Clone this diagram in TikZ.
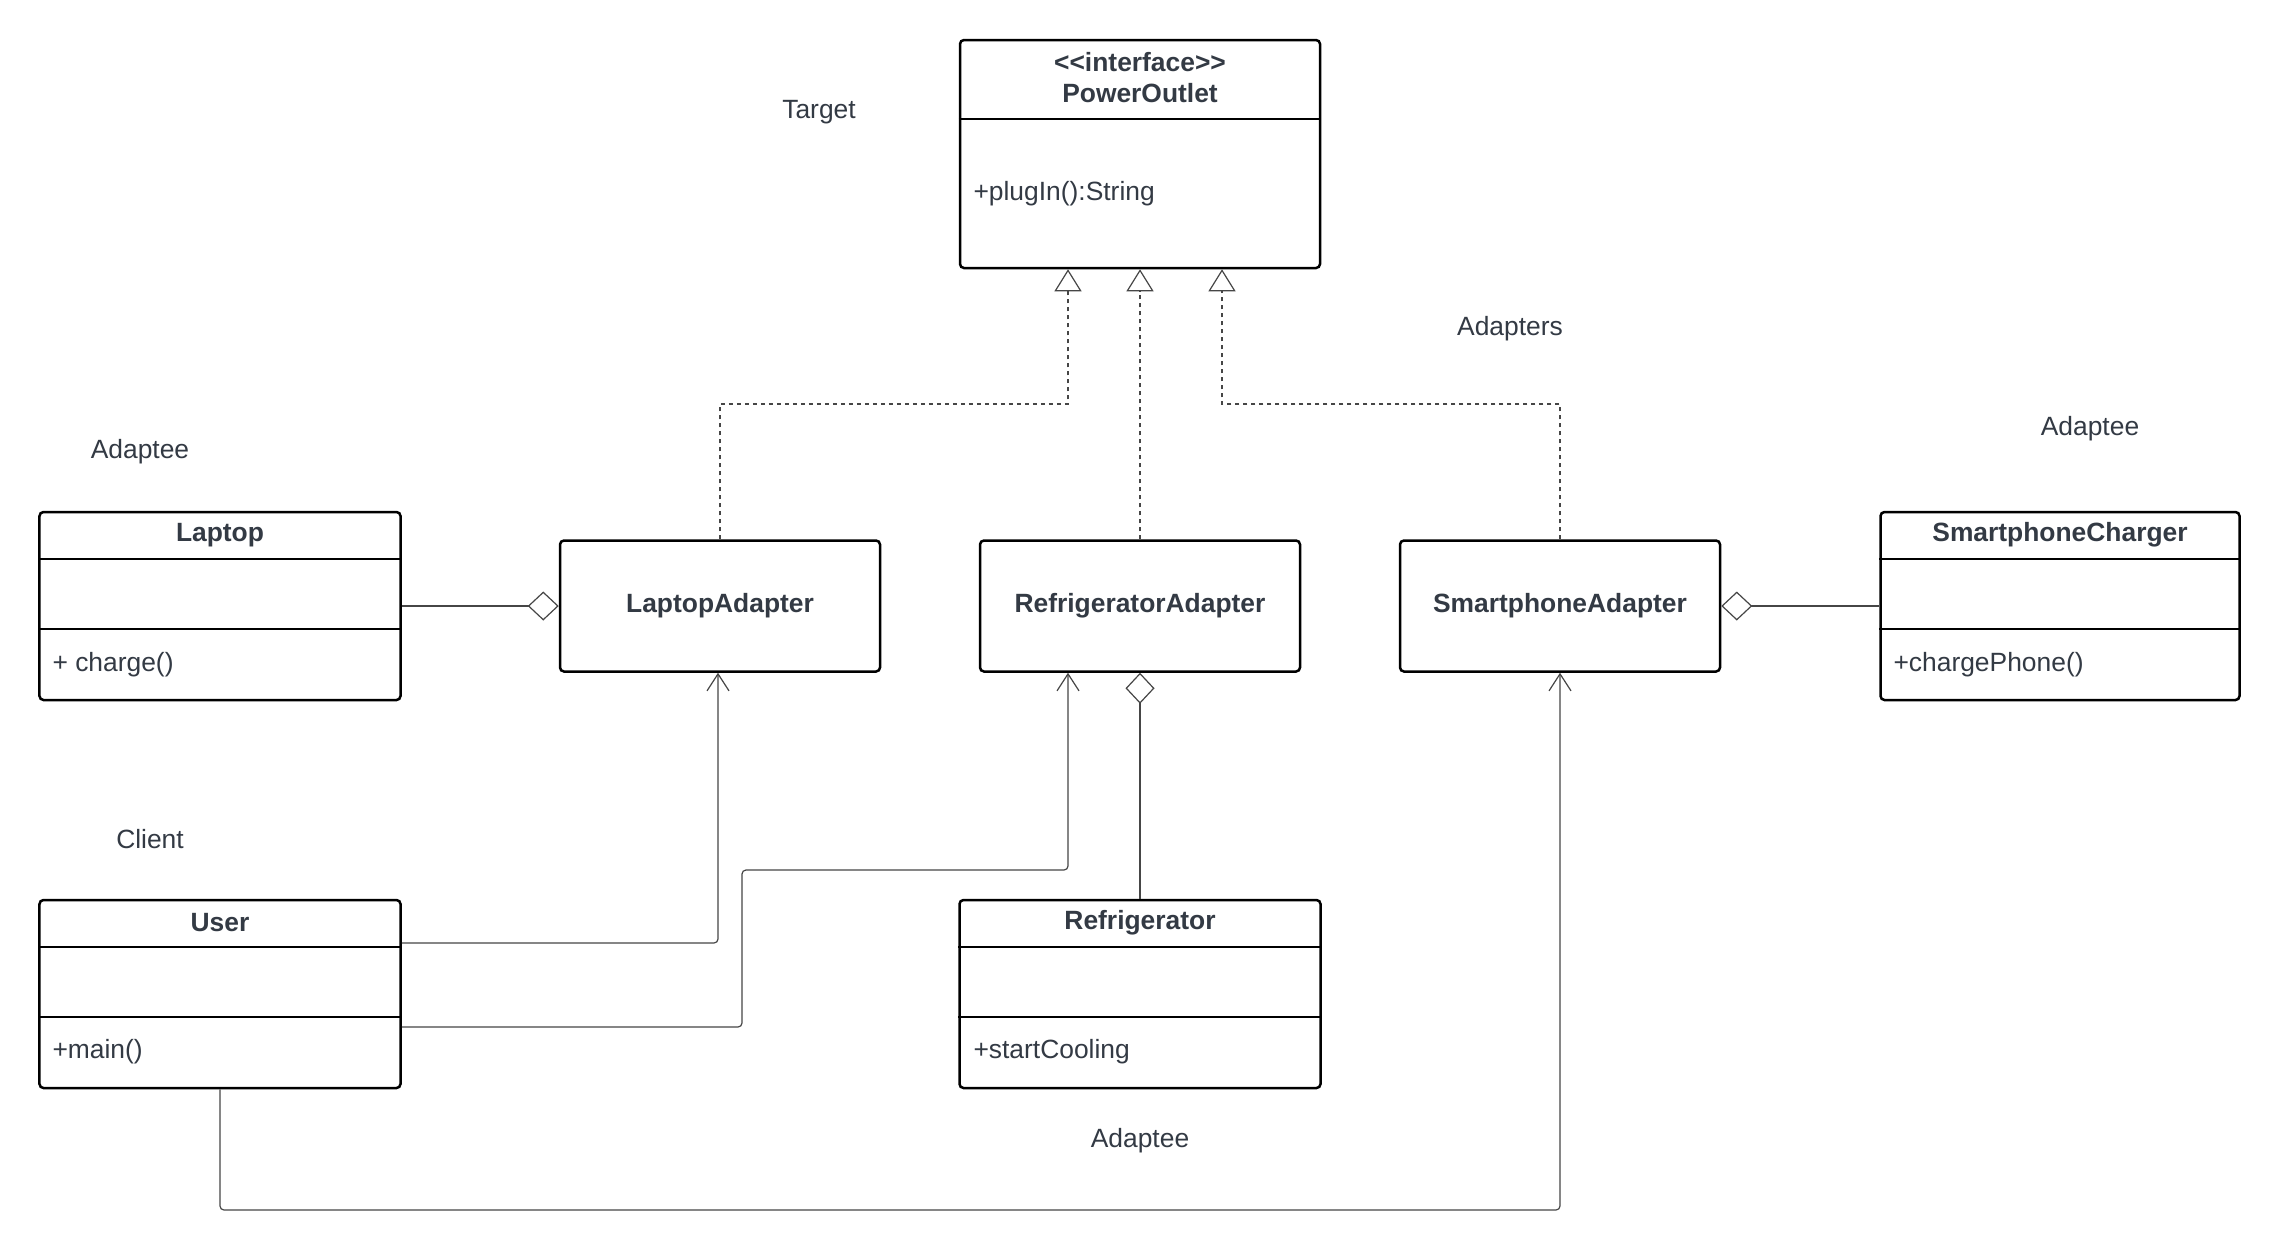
\documentclass[tikz,border=0pt]{standalone}
\usepackage{fontspec}
\setmainfont{Liberation Sans}
\usetikzlibrary{arrows.meta}

\definecolor{ink}{RGB}{51,58,68}
\definecolor{wire}{RGB}{70,70,70}

\tikzset{
    every node/.style={font=\fontsize{26.5}{32}\selectfont, text=ink},
    classbox/.style={draw=black, line width=2.5bp, rounded corners=4bp, inner sep=0bp, minimum width=361bp, minimum height=188bp},
    adapterbox/.style={draw=black, line width=2.5bp, rounded corners=4bp, inner sep=0bp, minimum width=320bp, minimum height=131bp, font=\fontsize{26.5}{32}\selectfont\bfseries},
    sepline/.style={black, line width=2.5bp},
    title/.style={font=\fontsize{26.5}{32}\selectfont\bfseries},
    member/.style={anchor=west},
    realize/.style={wire, line width=1.2bp, dash pattern=on 4bp off 4bp, -{Triangle[open, length=22bp, width=27bp, fill=white]}},
    uses/.style={wire, line width=1.2bp, rounded corners=4bp, -{Straight Barb[length=17bp, width=22bp]}},
    holds/.style={wire, line width=1.2bp, -{Diamond[open, length=31bp, width=29bp, fill=white]}}
}

\begin{document}
\begin{tikzpicture}[x=1bp, y=-1bp]
        \fill[white] (0,0) rectangle (2280,1250);

        % target interface
        \node[classbox, minimum width=360bp, minimum height=228bp] (outlet) at (1140,154) {};
        \draw[sepline] ([yshift=-80bp]outlet.north west) -- ([yshift=-80bp]outlet.north east);
        \node[title] (outletstereo) at (1140,62) {\textless\kern0pt\textless interface\textgreater\kern0pt\textgreater};
        \node[title] (outletname) at (1140,93) {PowerOutlet};
        \node[member] (outletop) at (970,194) {+plugIn():String};

        % adapters
        \node[adapterbox] (adlap) at (720,606) {LaptopAdapter};
        \node[adapterbox] (adfridge) at (1140,606) {RefrigeratorAdapter};
        \node[adapterbox] (adphone) at (1560,606) {SmartphoneAdapter};

        % adaptees and client
        \node[classbox] (laptop) at (220,606) {};
        \node[classbox, minimum width=359bp] (charger) at (2060,606) {};
        \node[classbox] (user) at (220,994) {};
        \node[classbox] (fridge) at (1140,994) {};
        \foreach \c in {laptop,charger,user,fridge} {
            \draw[sepline] ([yshift=-48bp]\c.north west) -- ([yshift=-48bp]\c.north east);
            \draw[sepline] ([yshift=-118bp]\c.north west) -- ([yshift=-118bp]\c.north east);
        }
        \node[title] (laptopname) at (220,535) {Laptop};
        \node[member] (laptopop) at (49,665) {+ charge()};
        \node[title] (chargername) at (2060,535) {SmartphoneCharger};
        \node[member] (chargerop) at (1890,665) {+chargePhone()};
        \node[title] (username) at (220,923) {User};
        \node[member] (userop) at (49,1052) {+main()};
        \node[title] (fridgename) at (1140,923) {Refrigerator};
        \node[member] (fridgeop) at (970,1052) {+startCooling};

        % role labels
        \node (lbltarget) at (819,112) {Target};
        \node (lbladapters) at (1510,329) {Adapters};
        \node (lbladapteeL) at (140,452) {Adaptee};
        \node (lbladapteeR) at (2090,429) {Adaptee};
        \node (lblclient) at (150,839) {Client};
        \node (lbladapteeB) at (1140,1141) {Adaptee};

        % realization
        \coordinate (jL) at (1068,404);
        \coordinate (jR) at (1222,404);
        \draw[realize] (adlap.north) |- (jL) -- (jL |- outlet.south);
        \draw[realize] (adfridge.north) -- (outlet.south);
        \draw[realize] (adphone.north) |- (jR) -- (jR |- outlet.south);

        % aggregation
        \draw[holds] (laptop.east) -- (laptop.east -| adlap.west);
        \draw[holds] (fridge.north) -- (adfridge.south);
        \draw[holds] (charger.west) -- (charger.west -| adphone.east);

        % client uses adapters
        \coordinate (uL) at (718,943);
        \coordinate (uF1) at (742,1027);
        \coordinate (uF2) at (1068,870);
        \coordinate (uP) at (220,1210);
        \draw[uses] (user.east |- uL) -- (uL) -- (uL |- adlap.south);
        \draw[uses] (user.east |- uF1) -- (uF1) |- (uF2) -- (uF2 |- adfridge.south);
        \draw[uses] (user.south) -- (uP) -| (adphone.south);
\end{tikzpicture}
\end{document}
